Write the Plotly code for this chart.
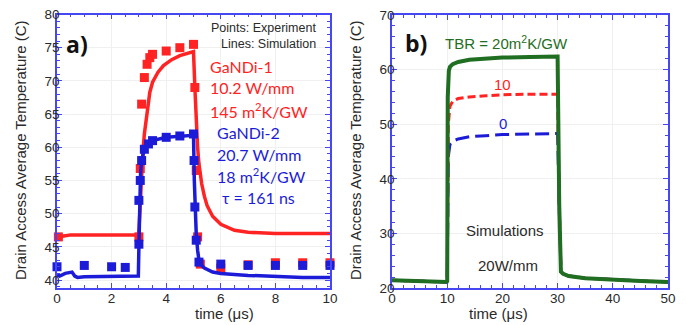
import plotly.graph_objects as go

# ---------------- Panel a data ----------------
red_exp_x = [0.05, 3.0, 3.05, 3.1, 3.2, 3.3, 3.4, 3.5, 4.0, 4.5, 5.0, 5.05, 5.1, 5.15, 5.25, 6.0, 7.0, 8.0, 9.0, 10.0]
red_exp_y = [46.5, 46.5, 56.8, 66.5, 70.5, 72.5, 73.5, 74.0, 74.5, 75.0, 75.5, 69.0, 56.5, 46.5, 42.4, 41.8, 42.3, 42.6, 42.6, 42.6]

blue_exp_x = [0.0, 1.0, 2.0, 2.5, 3.0, 3.0, 3.05, 3.1, 3.2, 3.35, 3.5, 4.0, 4.5, 5.0, 5.02, 5.05, 5.1, 5.2, 6.0, 7.0, 8.0, 9.0, 10.0]
blue_exp_y = [42.0, 42.2, 42.0, 41.9, 45.4, 52.0, 55.0, 58.0, 59.7, 60.5, 61.0, 61.5, 61.7, 62.0, 58.0, 51.0, 46.0, 42.7, 42.4, 42.2, 42.2, 42.2, 42.2]

red_sim_x = [0.0, 0.1, 0.2, 0.5, 1.0, 2.0, 2.98, 3.0, 3.05, 3.1, 3.15, 3.2, 3.3, 3.4, 3.5, 3.7, 3.9, 4.2, 4.5, 4.8, 4.97, 5.0,
             5.05, 5.1, 5.15, 5.2, 5.3, 5.4, 5.5, 5.7, 6.0, 6.5, 7.0, 8.0, 9.0, 10.0]
red_sim_y = [46.5, 46.3, 46.6, 46.8, 46.8, 46.8, 46.8, 47.5, 52.0, 56.0, 59.5, 62.0, 65.5, 68.3, 69.8, 71.3, 72.3, 73.2, 73.8, 74.2, 74.4, 74.4,
             69.0, 63.0, 60.0, 57.5, 54.5, 52.6, 51.2, 49.6, 48.4, 47.5, 47.2, 47.0, 47.0, 47.0]

blue_sim_x = [0.0, 0.1, 0.3, 0.55, 0.65, 0.75, 1.0, 2.0, 2.98, 3.0, 3.03, 3.06, 3.1, 3.2, 3.3, 3.5, 4.0, 4.5, 4.98, 5.0,
              5.03, 5.06, 5.1, 5.15, 5.2, 5.3, 5.4, 5.7, 6.0, 7.0, 8.0, 9.0, 10.0]
blue_sim_y = [40.8, 40.6, 41.0, 41.2, 40.6, 40.4, 40.5, 40.6, 40.6, 45.0, 52.0, 56.0, 58.0, 59.7, 60.5, 61.0, 61.5, 61.7, 61.8, 61.8,
              55.0, 50.0, 47.0, 44.5, 43.0, 42.2, 41.8, 41.2, 41.0, 40.7, 40.5, 40.4, 40.4]

# ---------------- Panel b data ----------------
tbr20_x = [0, 5, 9.9, 10.0, 10.1, 10.3, 10.5, 11, 12, 14, 17, 20, 25, 29.9, 30.0, 30.3, 30.6, 31, 32, 35, 40, 45, 50]
tbr20_y = [21.4, 21.2, 21.1, 21.3, 55.0, 59.8, 60.5, 61.0, 61.4, 61.8, 62.0, 62.2, 62.3, 62.4, 62.4, 35.0, 23.0, 22.6, 22.2, 21.8, 21.5, 21.3, 21.1]

tbr10_x = [0, 5, 9.9, 10.0, 10.2, 10.5, 11, 12, 14, 17, 20, 25, 29.9, 30.0, 30.3, 30.6, 31, 32, 35, 40, 45, 50]
tbr10_y = [21.4, 21.2, 21.1, 21.2, 50.0, 53.3, 54.2, 54.7, 55.0, 55.2, 55.4, 55.5, 55.5, 55.5, 35.0, 23.0, 22.6, 22.2, 21.8, 21.5, 21.3, 21.1]

tbr0_x = [0, 5, 9.9, 10.0, 10.2, 10.5, 11, 12, 14, 17, 20, 25, 29.9, 30.0, 30.3, 30.6, 31, 32, 35, 40, 45, 50]
tbr0_y = [21.4, 21.2, 21.1, 21.2, 44.0, 46.3, 46.9, 47.3, 47.7, 47.9, 48.1, 48.2, 48.3, 48.3, 35.0, 23.0, 22.6, 22.2, 21.8, 21.5, 21.3, 21.1]

RED = "#ff2323"
BLUE = "#1c1cd8"
GREEN = "#1f6e22"
FRAME = "#4646f2"
TXT = "#2a2a2a"

# page has an 8px body margin; figure occupies page x 8..686, y 8..325
W, H = 678, 317
def px(xp):  # page x -> paper x
    return (xp - 8) / W
def py(yp):  # page y -> paper y
    return (325 - yp) / H

fig = go.Figure()

fig.add_trace(go.Scatter(x=red_sim_x, y=red_sim_y, mode="lines", line=dict(color=RED, width=3.5), xaxis="x", yaxis="y", showlegend=False))
fig.add_trace(go.Scatter(x=red_exp_x, y=red_exp_y, mode="markers", marker=dict(symbol="square", size=9, color=RED), xaxis="x", yaxis="y", showlegend=False, cliponaxis=False))
fig.add_trace(go.Scatter(x=blue_sim_x, y=blue_sim_y, mode="lines", line=dict(color=BLUE, width=3.5), xaxis="x", yaxis="y", showlegend=False))
fig.add_trace(go.Scatter(x=blue_exp_x, y=blue_exp_y, mode="markers", marker=dict(symbol="square", size=9, color=BLUE), xaxis="x", yaxis="y", showlegend=False, cliponaxis=False))

fig.add_trace(go.Scatter(x=tbr0_x, y=tbr0_y, mode="lines", line=dict(color=BLUE, width=3, dash="14px,6px"), xaxis="x2", yaxis="y2", showlegend=False))
fig.add_trace(go.Scatter(x=tbr10_x, y=tbr10_y, mode="lines", line=dict(color=RED, width=3, dash="8px,4px"), xaxis="x2", yaxis="y2", showlegend=False))
fig.add_trace(go.Scatter(x=tbr20_x, y=tbr20_y, mode="lines", line=dict(color=GREEN, width=4), xaxis="x2", yaxis="y2", showlegend=False))

axis_common = dict(
    showline=True, linecolor=FRAME, linewidth=1.5, mirror="ticks",
    ticks="inside", ticklen=5, tickcolor=FRAME, tickwidth=1,
    showgrid=True, gridcolor="#f0f0f0", gridwidth=1, zeroline=False,
    automargin=False, ticklabeloverflow="allow",
    tickfont=dict(family="Liberation Sans, Arial", size=13.5, color=TXT),
)
title_font = dict(family="Liberation Sans, Arial", size=15, color=TXT)

fig.update_layout(
    width=W, height=H,
    margin=dict(l=0, r=0, t=0, b=0),
    paper_bgcolor="white", plot_bgcolor="white",
    xaxis=dict(domain=[px(57), px(330)], range=[0, 10], dtick=2, anchor="y", ticklabelstandoff=-3,
               minor=dict(dtick=0.5, ticks="inside", ticklen=3, tickcolor=FRAME, showgrid=False),
               **axis_common),
    yaxis=dict(domain=[py(288), py(14.5)], range=[38.8, 80], dtick=5, anchor="x", ticklabelstandoff=-7,
               minor=dict(dtick=1, ticks="inside", ticklen=3, tickcolor=FRAME, showgrid=False),
               **axis_common),
    xaxis2=dict(domain=[px(392), px(668)], range=[0, 50], dtick=10, anchor="y2", ticklabelstandoff=-3,
                minor=dict(dtick=2, ticks="inside", ticklen=3, tickcolor=FRAME, showgrid=False),
                **axis_common),
    yaxis2=dict(domain=[py(288), py(15)], range=[20, 70], dtick=10, anchor="x2", ticklabelstandoff=-7,
                minor=dict(dtick=2, ticks="inside", ticklen=3, tickcolor=FRAME, showgrid=False),
                **axis_common),
)

ann_font_sans = "Liberation Sans, Arial"
ann_font_cal = "Lato, Open Sans"
ytitle = "Drain Access Average Temperature (C)"
annotations = [
    dict(text="time (μs)", x=px(193), y=py(313), xref="paper", yref="paper", yanchor="middle", font=title_font),
    dict(text="time (μs)", x=px(530), y=py(313), xref="paper", yref="paper", yanchor="middle", font=title_font),
    dict(text=ytitle, x=px(20), y=py(150), xref="paper", yref="paper", xanchor="center", yanchor="middle", textangle=-90, font=title_font),
    dict(text=ytitle, x=px(355), y=py(150), xref="paper", yref="paper", xanchor="center", yanchor="middle", textangle=-90, font=title_font),
    dict(text="<b>a)</b>", x=0.73, y=75.6, xref="x", yref="y", font=dict(family="Open Sans", size=23, color="#111")),
    dict(text="Points: Experiment", x=9.56, y=77.9, xref="x", yref="y", xanchor="right", font=dict(family=ann_font_sans, size=12.5, color=TXT)),
    dict(text="Lines: Simulation", x=9.56, y=75.6, xref="x", yref="y", xanchor="right", font=dict(family=ann_font_sans, size=12.5, color=TXT)),
    dict(text="GaNDi-1", x=5.53, y=72.2, xref="x", yref="y", xanchor="left", font=dict(family=ann_font_cal, size=16, color=RED)),
    dict(text="10.2 W/mm", x=5.53, y=69.0, xref="x", yref="y", xanchor="left", font=dict(family=ann_font_cal, size=16, color=RED)),
    dict(text="145 m<sup>2</sup>K/GW", x=5.53, y=65.6, xref="x", yref="y", xanchor="left", font=dict(family=ann_font_cal, size=16, color=RED)),
    dict(text="GaNDi-2", x=5.79, y=62.3, xref="x", yref="y", xanchor="left", font=dict(family=ann_font_cal, size=16, color=BLUE)),
    dict(text="20.7 W/mm", x=5.79, y=58.9, xref="x", yref="y", xanchor="left", font=dict(family=ann_font_cal, size=16, color=BLUE)),
    dict(text="18 m<sup>2</sup>K/GW", x=5.79, y=55.8, xref="x", yref="y", xanchor="left", font=dict(family=ann_font_cal, size=16, color=BLUE)),
    dict(text="τ = 161 ns", x=5.97, y=52.5, xref="x", yref="y", xanchor="left", font=dict(family=ann_font_cal, size=16, color=BLUE)),
    dict(text="<b>b)</b>", x=4.3, y=64.9, xref="x2", yref="y2", font=dict(family="Open Sans", size=23, color="#111")),
    dict(text="TBR = 20m<sup>2</sup>K/GW", x=20.7, y=64.9, xref="x2", yref="y2", font=dict(family=ann_font_sans, size=15, color=GREEN)),
    dict(text="10", x=20.1, y=57.2, xref="x2", yref="y2", font=dict(family=ann_font_sans, size=15, color=RED)),
    dict(text="0", x=20.1, y=50.2, xref="x2", yref="y2", font=dict(family=ann_font_sans, size=15, color=BLUE)),
    dict(text="Simulations", x=20.5, y=30.6, xref="x2", yref="y2", font=dict(family=ann_font_sans, size=15, color=TXT)),
    dict(text="20W/mm", x=21.0, y=24.2, xref="x2", yref="y2", font=dict(family=ann_font_sans, size=15, color=TXT)),
]
for a in annotations:
    a.setdefault("showarrow", False)
fig.update_layout(annotations=annotations)

fig.write_html("out.html")
